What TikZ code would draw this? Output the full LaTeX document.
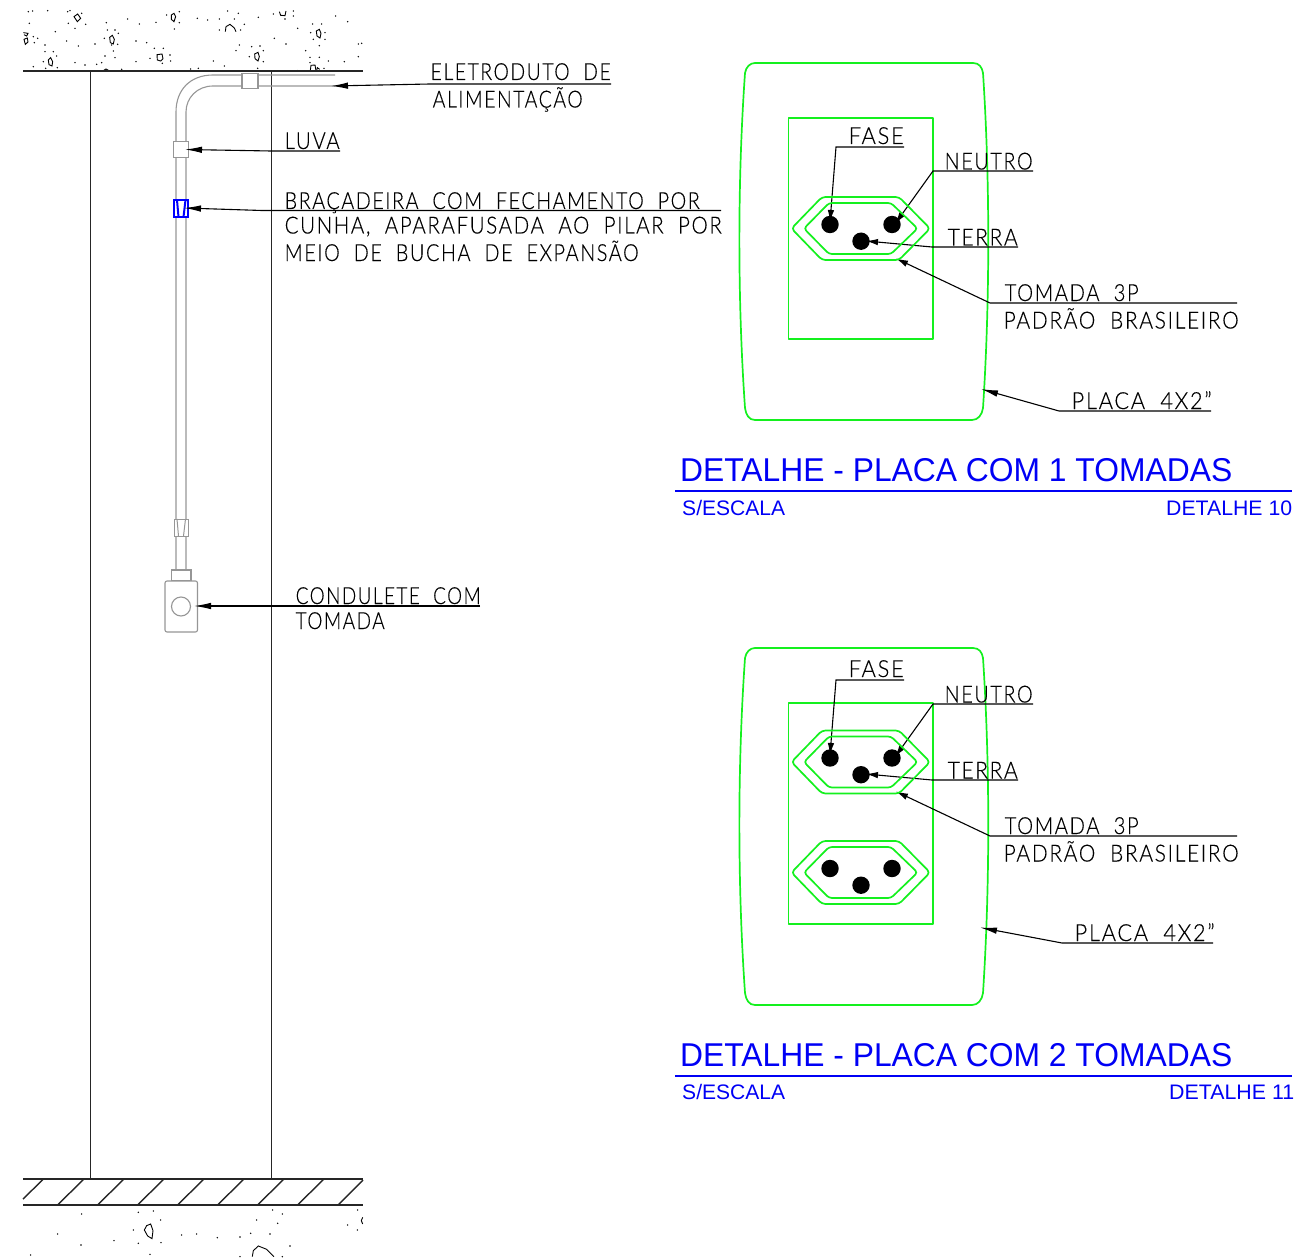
\documentclass[tikz,border=0pt]{standalone}
\usepackage{fontspec}
\usepackage{graphicx}
\setmainfont{Liberation Sans}
\newfontfamily\cadfont[LetterSpace=8,FakeBold=0.3]{Lato Light}
\usetikzlibrary{arrows.meta}
\definecolor{plategreen}{RGB}{20,240,30}
\definecolor{titleblue}{RGB}{0,0,245}
\definecolor{pipegray}{RGB}{150,150,150}
\newcommand{\fitw}[2]{\resizebox{#1pt}{\height}{\strut\kern0pt #2}}
\tikzset{
  cadtext/.style={inner sep=0pt,anchor=base west,font=\cadfont\fontsize{23.5}{24}\selectfont,text=black},
  titletext/.style={inner sep=0pt,anchor=base west,text=titleblue,font=\fontsize{33}{34}\selectfont},
  subtext/.style={inner sep=0pt,anchor=base west,text=titleblue,font=\fontsize{21}{22}\selectfont},
  leader/.style={draw=black,line width=1.1pt,-{Latex[length=17pt,width=6.5pt]}},
  shortleader/.style={draw=black,line width=1.1pt,-{Latex[length=12pt,width=6.5pt]}},
  greenline/.style={draw=plategreen,line width=1.7pt,line join=round},
  pipe/.style={draw=pipegray,line width=1.1pt},
  fitting/.style={draw=pipegray,line width=1.1pt,fill=white},
  structure/.style={draw=black!85,line width=1.4pt},
  rock/.style={draw=black,line width=.9pt},
  titlerule/.style={draw=titleblue,line width=2pt}
}
\newcommand{\socket}[2]{%
  \begin{scope}[yshift=-#2pt]
    \draw[greenline,rounded corners=3.5pt] (791.5,228.5)--(822,197)--(899,197)--(930,228.5)--(899,260)--(822,260)--cycle;
    \draw[greenline,rounded corners=3pt] (804,228.5)--(829,203)--(891,203)--(917.5,228.5)--(891,254)--(829,254)--cycle;
    \fill[black] (830,224.5) circle (8.7pt);
    \fill[black] (892,224.5) circle (8.7pt);
    \fill[black] (861,241.2) circle (8.7pt);
  \end{scope}}
\newcommand{\plate}[3]{% prefix, yoffset plate, yoffset text (leaders)
  \begin{scope}[yshift=-#2pt]
    \draw[greenline] (755,63) -- (973,63) .. controls (979,63) and (982,67) .. (983,73)
      .. controls (990,180) and (990,300) .. (983,408)
      .. controls (982,415) and (978,420) .. (972,420) -- (755,420)
      .. controls (749,420) and (746,415) .. (745,408)
      .. controls (737.5,300) and (737.5,180) .. (745,73)
      .. controls (746,67) and (750,63) .. (755,63) -- cycle;
    \draw[greenline] (788.5,118) rectangle (933,339);
  \end{scope}
  \begin{scope}[yshift=-#3pt]
    \node[cadtext] (#1fase) at (848.5,144) {\fitw{55}{FASE}};
    \node[cadtext] (#1neutro) at (944.5,169.5) {\fitw{88}{NEUTRO}};
    \node[cadtext] (#1terra) at (947.5,245.5) {\fitw{70}{TERRA}};
    \node[cadtext] (#1tom) at (1004.5,301) {\fitw{134}{TOMADA\ \ 3P}};
    \node[cadtext] (#1pad) at (1003.5,328.5) {\fitw{235}{PADRÃO\ \ BRASILEIRO}};
    \coordinate (#1a1) at (904,147); \coordinate (#1a2) at (836,147); \coordinate (#1a3) at (830,222);
    \coordinate (#1b1) at (1033,171); \coordinate (#1b2) at (933,171); \coordinate (#1b3) at (895,224);
    \coordinate (#1c1) at (1018,247); \coordinate (#1c2) at (932,247); \coordinate (#1c3) at (866,241);
    \coordinate (#1d1) at (1237,303); \coordinate (#1d2) at (990,303); \coordinate (#1d3) at (896,258.5);
    \draw[shortleader] (#1a1) -- (#1a2) -- (#1a3);
    \draw[shortleader] (#1b1) -- (#1b2) -- (#1b3);
    \draw[shortleader] (#1c1) -- (#1c2) -- (#1c3);
    \draw[shortleader] (#1d1) -- (#1d2) -- (#1d3);
  \end{scope}}
\begin{document}
\begin{tikzpicture}[x=1pt,y=-1pt]
\useasboundingbox (0,0) rectangle (1297,1257);
% top slab texture (coordinates from 3x crop)
\begin{scope}[x=.33333pt,y=-.33333pt]
  \foreach \a/\b in {85/35,98/33,143/32,88/70,166/95,200/123,235/138,285/132,135/135,113/115,100/110,103/128,135/155,160/155,130/185,170/168,172/203,100/200,137/205,225/188,255/195,290/193,305/188,315/168,345/173,340/153,313/115,322/90,345/90,355/100,353/133,335/135,319/68,225/85,205/70,257/73,245/40,210/32,203/35,383/57,418/72,408/123,440/128,408/185,450/175,463/145,490/145,510/165,512/183,487/190,468/67,500/45,538/35,538/68,523/87,592/55,623/60,640/183,673/198,595/205,572/207,683/33,715/40,703/57,658/57,733/73,722/90,658/90,775/52,820/42,855/57,880/33,880/48,823/115,858/132,893/85,718/135,708/152,755/140,780/138,790/152,748/170,790/185,773/205,917/152,958/137,940/118,975/118,938/72,965/72,932/98,975/98,930/172,958/172,985/183,1033/185,1075/170,1075/132,1085/130,1007/48,1043/65,972/205,930/188,365/208,893/212}
    \fill[black] (\a,\b) circle (.8pt);
  \draw[rock] (222,50)--(233,42)--(242,55)--(232,65)--cycle;
  \draw[rock] (514,45)--(522,40)--(527,50)--(522,65)--(514,58)--cycle;
  \draw[rock] (329,112)--(337,106)--(343,118)--(340,132)--(331,128)--cycle;
  \draw[rock] (145,180)--(152,173)--(158,185)--(156,198)--(147,194)--cycle;
  \draw[rock] (471,164)--(486,162)--(489,176)--(482,183)--(472,180)--cycle;
  \draw[rock] (764,162)--(774,157)--(778,170)--(774,183)--(765,176)--cycle;
  \draw[rock] (949,93)--(958,88)--(963,100)--(960,114)--(951,108)--cycle;
  \draw[rock] (70,98)--(84,100)--(80,108)--(72,104);
  \draw[rock] (72,118)--(82,114)--(84,126)--(76,133)--cycle;
  \draw[rock] (676,95)--(678,80)--(690,73)--(703,84)--(708,95);
  \draw[rock] (838,35)--(842,46)--(855,47)--(858,33);
  \draw[rock] (931,212)--(933,196)--(945,195)--(948,212);
  \draw[rock] (950,212)--(952,203)--(959,208);
  \draw[rock] (310,212)--(318,207)--(327,212);
\end{scope}
% bottom soil texture
\begin{scope}[x=.33333pt,y=-.33333pt,shift={(0,3480)}]
  \foreach \a/\b in {245/162,415/157,460/153,482/180,400/210,173/222,342/242,243/255,415/250,483/248,450/283,92/285,545/225,590/222,652/233,720/231,752/220,810/222,770/180,818/150,847/162,833/190,870/258,720/290,847/290,1043/195,1072/210,1073/150}
    \fill[black] (\a,\b) circle (.8pt);
  \draw[rock] (440,197)--(452,192)--(459,212)--(456,236)--(443,228)--(433,210)--cycle;
  \draw[rock] (757,290)--(760,272)--(775,258)--(800,268)--(822,290);
  \draw[rock] (1088,172)--(1084,182)--(1088,192);
\end{scope}
% structure
\coordinate (ceilL) at (23,71); \coordinate (ceilR) at (363,71);
\coordinate (colLt) at (90.4,71); \coordinate (colLb) at (90.4,1179);
\coordinate (colRt) at (271.5,71); \coordinate (colRb) at (271.5,1179);
\coordinate (floorAL) at (23,1179); \coordinate (floorAR) at (363,1179);
\coordinate (floorBL) at (23,1205); \coordinate (floorBR) at (363,1205);
\draw[structure,line width=1.6pt] (ceilL) -- (ceilR);
\draw[structure] (colLt) -- (colLb);
\draw[structure] (colRt) -- (colRb);
\draw[structure] (floorAL) -- (floorAR);
\draw[structure] (floorBL) -- (floorBR);
\draw[structure] (43.5,1179) -- (23,1199);
\foreach \t in {84,124,164,204,244,284,324}
  \draw[structure] (\t,1179) -- ({\t-26.5},1205);
\draw[structure] (363,1180) -- (338,1205);
% conduit
\draw[pipe] (335,75) -- (213,75) .. controls (190,75) and (176,90) .. (176,112) -- (176,570);
\draw[pipe] (335,86) -- (213,86) .. controls (197,86) and (186,98) .. (186,112) -- (186,570);
\draw[fitting] (242,73.5) rectangle (258,88.5);
\draw[fitting] (173.5,141.5) rectangle (188.5,157.5);
% upper clamp (blue)
\begin{scope}[draw=blue,line width=2pt]
  \draw[fill=white] (174.2,200) rectangle (188,217);
  \draw (177,200) -- (178.5,217);
  \draw (185.5,200) -- (183.5,217);
\end{scope}
% lower clamp
\draw[fitting,line width=1pt] (174.5,519) rectangle (188,536);
\draw[pipe,line width=1pt] (177,519) -- (178.5,536);
\draw[pipe,line width=1pt] (185.5,519) -- (183.5,536);
% condulete
\draw[fitting] (171.5,570) rectangle (191,581);
\draw[fitting,rounded corners=2pt] (165,581) rectangle (197.5,632);
\node[draw=pipegray,line width=1.1pt,circle,minimum size=19pt,inner sep=0pt] (condcirc) at (181,606.5) {};
% left labels
\node[cadtext] (eletro) at (430.5,80) {\fitw{180}{ELETRODUTO\ \ DE}};
\node[cadtext] (alim) at (432.5,107.5) {\fitw{150}{ALIMENTAÇÃO}};
\node[cadtext] (luva) at (284.5,149) {\fitw{55}{LUVA}};
\node[cadtext] (braca) at (284.5,209) {\fitw{415}{BRAÇADEIRA\ \ COM\ \ FECHAMENTO\ \ POR}};
\node[cadtext] (cunha) at (284.5,233.5) {\fitw{437}{CUNHA,\ \ APARAFUSADA\ \ AO\ \ PILAR\ \ POR}};
\node[cadtext] (meio) at (284.5,261) {\fitw{354}{MEIO\ \ DE\ \ BUCHA\ \ DE\ \ EXPANSÃO}};
\node[cadtext] (condl) at (295.5,604) {\fitw{185}{CONDULETE\ \ COM}};
\node[cadtext] (tomd) at (295.5,629) {\fitw{89}{TOMADA}};
\coordinate (e1) at (611,84); \coordinate (e2) at (430,84); \coordinate (e3) at (331,86);
\coordinate (l1) at (340,151); \coordinate (l2) at (271,151); \coordinate (l3) at (185,149.5);
\coordinate (b1) at (721,210.5); \coordinate (b2) at (262,210.5); \coordinate (b3) at (184,208);
\coordinate (c1) at (480,606); \coordinate (c3) at (194,606);
\draw[leader] (e1) -- (e2) -- (e3);
\draw[leader] (l1) -- (l2) -- (l3);
\draw[leader] (b1) -- (b2) -- (b3);
\draw[leader] (c1) -- (c3);
% plate 1
\plate{p}{0}{0}
\socket{s1}{0}
\node[cadtext] (placa1) at (1071.5,409) {\fitw{140}{PLACA\ \ 4X2”}};
\coordinate (pl1) at (1211,411); \coordinate (pl2) at (1059,411); \coordinate (pl3) at (981,389);
\draw[leader] (pl1) -- (pl2) -- (pl3);
\node[titletext] (title1) at (680,481) {\fitw{552}{DETALHE - PLACA COM 1 TOMADAS}};
\coordinate (tr1a) at (675,490.5); \coordinate (tr1b) at (1292,490.5);
\draw[titlerule] (tr1a) -- (tr1b);
\node[subtext] (esc1) at (682,515) {\fitw{103}{S/ESCALA}};
\node[subtext] (det10) at (1166,515) {\fitw{126}{DETALHE 10}};
% plate 2
\begin{scope}
\plate{q}{585}{533}
\end{scope}
\socket{s2}{533.5}
\socket{s3}{644}
\node[cadtext] (placa2) at (1074.5,941) {\fitw{140}{PLACA\ \ 4X2”}};
\coordinate (ql1) at (1213,943); \coordinate (ql2) at (1062,943); \coordinate (ql3) at (980,927.5);
\draw[leader] (ql1) -- (ql2) -- (ql3);
\node[titletext] (title2) at (680,1066) {\fitw{552}{DETALHE - PLACA COM 2 TOMADAS}};
\coordinate (tr2a) at (675,1076); \coordinate (tr2b) at (1292,1076);
\draw[titlerule] (tr2a) -- (tr2b);
\node[subtext] (esc2) at (682,1099) {\fitw{103}{S/ESCALA}};
\node[subtext] (det11) at (1169,1099) {\fitw{125}{DETALHE 11}};
\end{tikzpicture}
\end{document}
